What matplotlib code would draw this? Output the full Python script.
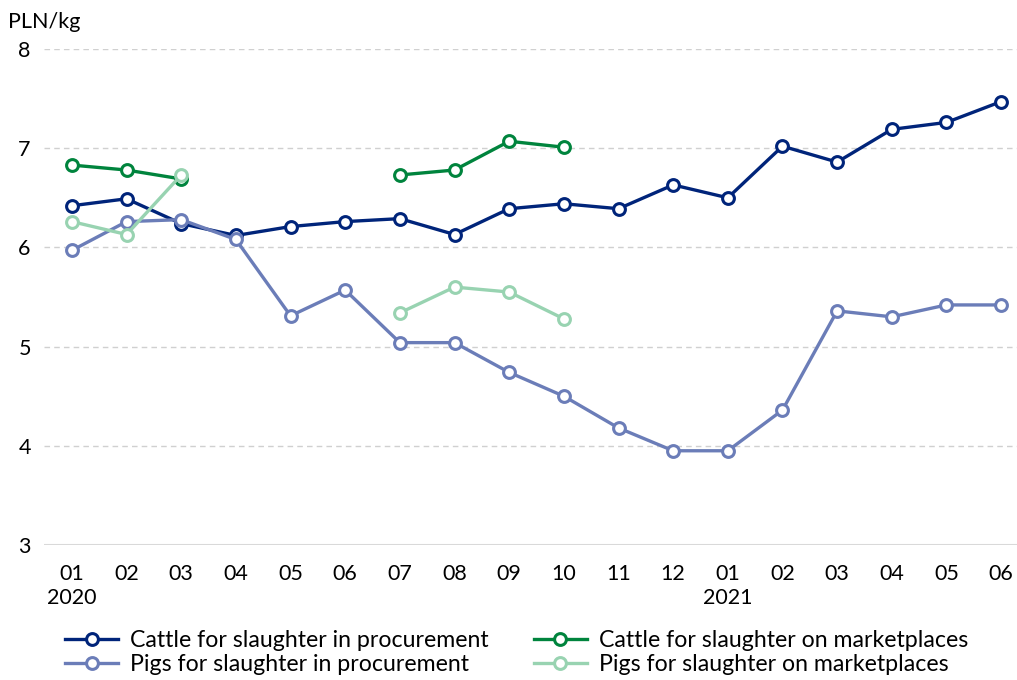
import numpy as np
import matplotlib.pyplot as plt

plt.rcParams['font.family'] = ['Lato', 'DejaVu Sans']

# months Jan 2020 - Jun 2021
months = ['01', '02', '03', '04', '05', '06', '07', '08', '09', '10', '11', '12',
          '01', '02', '03', '04', '05', '06']
years = {0: '2020', 12: '2021'}

nan = np.nan
cattle_proc = [6.42, 6.49, 6.24, 6.12, 6.21, 6.26, 6.29, 6.13, 6.39, 6.44, 6.39, 6.63,
               6.50, 7.02, 6.86, 7.19, 7.26, 7.47]
cattle_market = [6.83, 6.78, 6.69, nan, nan, nan, 6.73, 6.78, 7.07, 7.01, nan, nan,
                 nan, nan, nan, nan, nan, nan]
pigs_proc = [5.97, 6.26, 6.28, 6.08, 5.31, 5.57, 5.04, 5.04, 4.74, 4.50, 4.18, 3.95,
             3.95, 4.36, 5.36, 5.30, 5.42, 5.42]
pigs_market = [6.26, 6.13, 6.73, nan, nan, nan, 5.34, 5.60, 5.55, 5.28, nan, nan,
               nan, nan, nan, nan, nan, nan]

series = [
    (cattle_proc, '#00247a', 'Cattle for slaughter in procurement'),
    (cattle_market, '#00843d', 'Cattle for slaughter on marketplaces'),
    (pigs_proc, '#6b7db8', 'Pigs for slaughter in procurement'),
    (pigs_market, '#98d3b1', 'Pigs for slaughter on marketplaces'),
]

fig = plt.figure(figsize=(10.17, 6.8), dpi=100)
ax = fig.add_axes([44 / 1017, 1 - 545 / 680, 1 - 44 / 1017, (545 - 49) / 680])

x = np.arange(len(months))
handles = []
for vals, col, lab in series:
    h, = ax.plot(x, vals, color=col, linewidth=2.4, marker='o', markersize=8.5,
                 markerfacecolor='white', markeredgecolor=col, markeredgewidth=2.2,
                 label=lab, zorder=3)
    handles.append(h)

ax.set_ylim(3, 8)
ax.set_xlim(-0.51, 17.29)
ax.set_yticks([3, 4, 5, 6, 7, 8])
for yv in [4, 5, 6, 7, 8]:
    ax.axhline(yv, color='#d0d0d0', linewidth=1, linestyle=(0, (4, 3)), zorder=1)
ax.axhline(3, color='#d9d9d9', linewidth=1.5, zorder=1)

ax.set_xticks(x)
ax.set_xticklabels([m + ('\n' + years[i] if i in years else '') for i, m in enumerate(months)],
                   fontsize=15.5, linespacing=1.25)
ax.tick_params(axis='x', length=0, pad=14)
ax.tick_params(axis='y', length=0, pad=14, labelsize=15.5)
for lbl in ax.get_yticklabels():
    lbl.set_horizontalalignment('center')
for s in ax.spines.values():
    s.set_visible(False)

fig.text(8 / 1017, 1 - 22 / 680, 'PLN/kg', fontsize=15.5, va='center', ha='left')

fig.legend(handles=[handles[0], handles[2], handles[1], handles[3]],
           labels=[series[0][2], series[2][2], series[1][2], series[3][2]],
           ncol=2, loc='upper left', bbox_to_anchor=(65 / 1017, 1 - 630 / 680),
           frameon=False, fontsize=16.7, handlelength=2.3, handletextpad=0.5,
           columnspacing=1.95, labelspacing=0.15, borderpad=0, borderaxespad=0)

fig.savefig('out.png', dpi=100)
